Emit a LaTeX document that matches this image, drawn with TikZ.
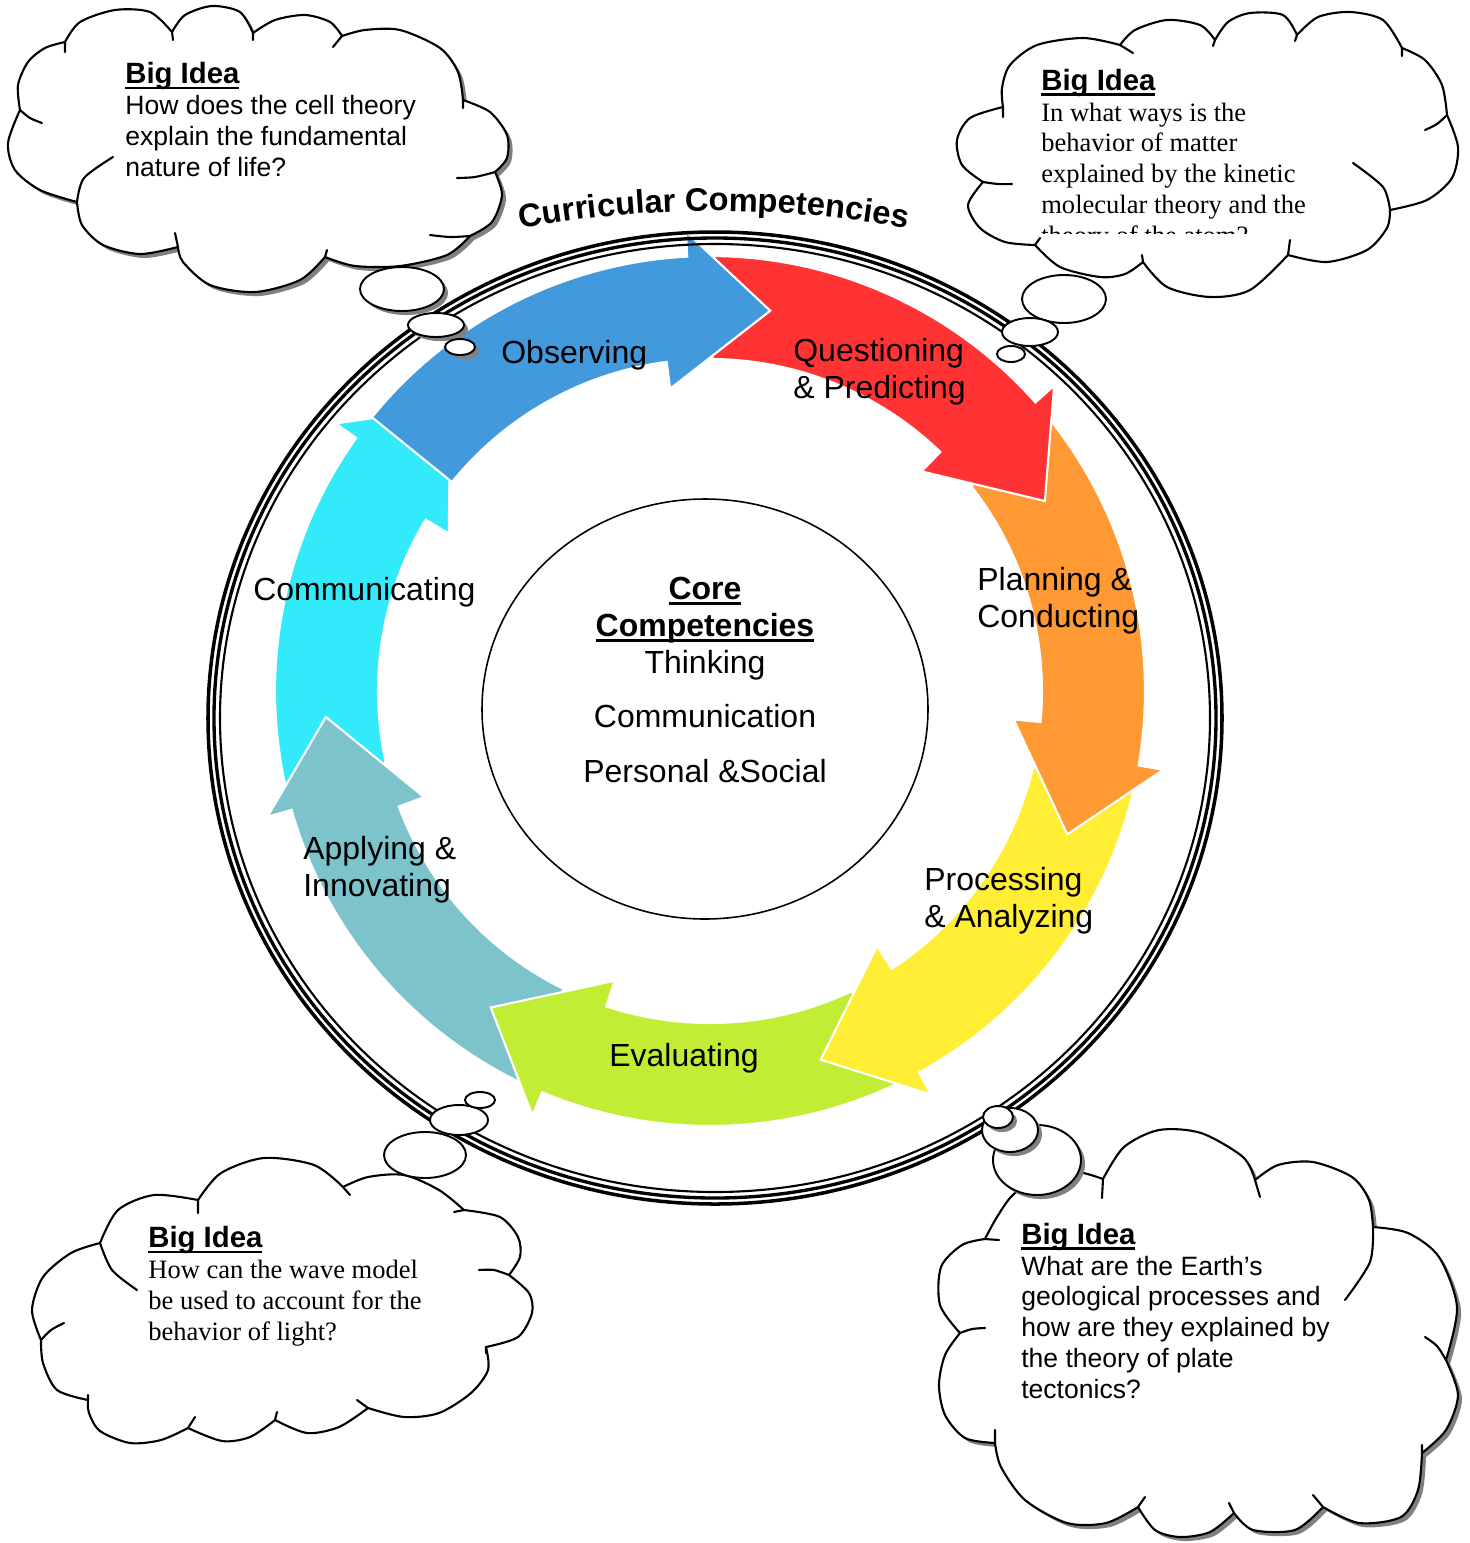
\documentclass[tikz,border=0pt]{standalone}
\usepackage{fontspec}
\setmainfont{Liberation Sans}
\newfontfamily\timesfont{Liberation Serif}
\usetikzlibrary{calc,shadows,decorations.text}

\definecolor{commcyan}{RGB}{51,234,250}
\definecolor{applyteal}{RGB}{125,195,204}
\definecolor{evalgreen}{RGB}{193,238,52}
\definecolor{procyellow}{RGB}{255,238,51}
\definecolor{planorange}{RGB}{255,153,51}
\definecolor{quesred}{RGB}{255,51,51}
\definecolor{obsblue}{RGB}{66,153,220}

\newcommand{\ulbf}[1]{\setbox0=\hbox{\bfseries #1}\rlap{\rule[-0.19em]{\wd0}{0.09em}}\box0}
\newcommand{\bigidea}{{\normalfont\fontsize{16.7pt}{17.5pt}\selectfont\ulbf{Big Idea}}}

\begin{document}
\begin{tikzpicture}[x=0.02cm, y=-0.02cm,
    lbl/.style={font=\fontsize{18.2pt}{20.8pt}\selectfont, align=left, anchor=base west, inner sep=0pt},
    idea/.style={font=\fontsize{15.1pt}{17.5pt}\selectfont, align=left, anchor=base west, inner sep=0pt},
    puffline/.style={draw=black, line width=1.2pt, line join=round, line cap=round},
    cloudshadow/.style={drop shadow={shadow xshift=2.3pt, shadow yshift=-2.3pt, fill=black!50, opacity=1}},
    bubble/.style={fill=white, draw=black, line width=1.1pt}]
    \useasboundingbox (0,0) rectangle (1470,1543);

    % Arrow ring
    \begin{scope}[shift={(710,691)}]
        \foreach \tip/\col in {132.43/commcyan, 183.86/applyteal, 235.29/evalgreen, 286.71/procyellow, 338.14/planorange, 389.57/quesred, 441/obsblue}{
            \pgfmathsetmacro\ta{-\tip-60}
            \pgfmathsetmacro\tb{-\tip-12}
            \pgfmathsetmacro\tc{-\tip-16.5}
            \filldraw[fill=\col, draw=white, line width=1.2pt]
                (\ta:435) arc[start angle=\ta, end angle=\tb, radius=435]
                -- (\tb:460) -- (-\tip:385) -- (\tc:305) -- (\tc:332)
                arc[start angle=\tc, end angle=\ta, radius=332] -- cycle;
        }
    \end{scope}

    % Labels (anchored on the last line)
    \node[lbl] (obs) at (501,363) {Observing};
    \node[lbl] (ques) at (793,398) {Questioning\\\& Predicting};
    \node[lbl] (plan) at (977,627) {Planning \&\\Conducting};
    \node[lbl] (proc) at (924,927) {Processing\\\& Analyzing};
    \node[lbl] (eval) at (609,1066) {Evaluating};
    \node[lbl] (apply) at (303,896) {Applying \&\\Innovating};
    \node[lbl] (comm) at (253,600) {Communicating};

    % Core
    \draw[line width=0.9pt] (705,709) ellipse [x radius=223, y radius=210];
    \node[font=\fontsize{18.2pt}{21pt}\selectfont, align=center, anchor=base, inner sep=0pt] (core) at (705,782)
        {\ulbf{Core}\\\ulbf{Competencies}\\Thinking\\[10pt]Communication\\[10pt]Personal \&Social};

    % Outer ring
    \foreach \rx/\ry/\lw in {507/486/2pt, 501/480/1.9pt, 495/474/1.2pt}
        \draw[line width=\lw] (715,718) ellipse [x radius=\rx, y radius=\ry];

    % Title
    \path[decorate, decoration={text along path, text align=center,
        text={|\fontsize{18.6pt}{20pt}\selectfont\bfseries|Curricular Competencies}}]
        ($(714,1311)+(-101:1100)$) arc[start angle=-101, end angle=-79, radius=1100];

    % Cloud top left
    \filldraw[puffline, fill=white, cloudshadow]
        plot[smooth] coordinates {(20,110) (18,85) (28,62) (45,48) (65,42)}
        -- plot[smooth] coordinates {(65,42) (80,22) (115,10) (150,12) (172,32)}
        -- plot[smooth] coordinates {(172,32) (185,15) (212,6) (240,12) (253,33)}
        -- plot[smooth] coordinates {(253,33) (275,20) (305,15) (330,22) (342,36)}
        -- plot[smooth] coordinates {(342,36) (365,30) (400,30) (440,48) (458,72) (463,100)}
        -- plot[smooth] coordinates {(463,100) (490,112) (507,135) (507,158) (495,172)}
        -- plot[smooth] coordinates {(495,172) (502,195) (492,222) (470,236)}
        -- plot[smooth] coordinates {(470,236) (447,255) (400,266) (355,266) (325,257)}
        -- plot[smooth] coordinates {(325,257) (300,280) (255,292) (210,285) (183,262) (178,247)}
        -- plot[smooth] coordinates {(178,247) (140,254) (103,245) (82,225) (77,202)}
        -- plot[smooth] coordinates {(77,202) (40,190) (15,170) (8,143) (20,110)} -- cycle;
    \draw[puffline] plot[smooth] coordinates {(20,110) (30,118) (42,123)};
    \draw[puffline] (65,42) -- (65,52) (172,32) -- (173,40) (253,33) -- (253,40) (342,36) -- (333,47)
        (463,100) -- (463,108) (325,257) -- (327,250) (178,247) -- (175,233);
    \draw[puffline] plot[smooth] coordinates {(495,172) (475,177) (457,178)};
    \draw[puffline] plot[smooth] coordinates {(470,236) (450,237) (430,235)};
    \draw[puffline] plot[smooth] coordinates {(77,202) (84,178) (113,157)};
    \filldraw[bubble, cloudshadow] (402,289) ellipse [x radius=42, y radius=22];
    \filldraw[bubble, cloudshadow] (436,325) ellipse [x radius=28, y radius=12];
    \filldraw[bubble, cloudshadow] (460,347) ellipse [x radius=15, y radius=8];
    \node[idea] (ideaTL) at (125,176) {\bigidea\\How does the cell theory\\explain the fundamental\\nature of life?};

    % Cloud top right
    \filldraw[puffline, fill=white]
        plot[smooth] coordinates {(1003,107) (1002,88) (1010,65) (1037,45) (1083,38) (1120,45)}
        -- plot[smooth] coordinates {(1120,45) (1135,30) (1167,20) (1200,25) (1215,40)}
        -- plot[smooth] coordinates {(1215,40) (1228,22) (1250,13) (1283,15) (1297,35)}
        -- plot[smooth] coordinates {(1297,35) (1318,17) (1350,12) (1383,20) (1402,48)}
        -- plot[smooth] coordinates {(1402,48) (1425,60) (1442,85) (1447,115)}
        -- plot[smooth] coordinates {(1447,115) (1458,147) (1452,178) (1427,200) (1390,210)}
        -- plot[smooth] coordinates {(1390,210) (1387,228) (1367,250) (1327,262) (1288,255)}
        -- plot[smooth] coordinates {(1288,255) (1250,290) (1210,297) (1167,287) (1143,262)}
        -- plot[smooth] coordinates {(1143,262) (1125,274) (1100,277) (1060,267) (1035,245)}
        -- plot[smooth] coordinates {(1035,245) (1005,242) (980,228) (968,205) (983,182)}
        -- plot[smooth] coordinates {(983,182) (962,165) (957,140) (970,118) (1003,107)} -- cycle;
    \draw[puffline] (1003,107) -- (1003,117) (1143,262) -- (1142,255) (1288,255) -- (1290,240)
        (1402,48) -- (1402,56) (1297,35) -- (1295,41) (1215,40) -- (1213,46) (1120,45) -- (1133,53)
        (1035,245) -- (1040,238);
    \draw[puffline] plot[smooth] coordinates {(983,182) (998,184) (1012,184)};
    \draw[puffline] plot[smooth] coordinates {(1390,210) (1383,187) (1353,163)};
    \draw[puffline] plot[smooth] coordinates {(1447,115) (1437,124) (1425,130)};
    \filldraw[bubble] (1064,299) ellipse [x radius=42, y radius=24];
    \filldraw[bubble] (1030,332) ellipse [x radius=28, y radius=14];
    \filldraw[bubble] (1011,354) ellipse [x radius=14, y radius=8];
    \begin{scope}
        \clip (1030,40) rectangle (1340,233);
        \node[idea, font=\fontsize{15.1pt}{17.5pt}\selectfont\timesfont] (ideaTR) at (1041,244)
            {\bigidea\\In what ways is the\\behavior of matter\\explained by the kinetic\\molecular theory and the\\theory of the atom?};
    \end{scope}

    % Cloud bottom left
    \filldraw[puffline, fill=white]
        plot[smooth] coordinates {(100,1243) (118,1210) (154,1195) (198,1200)}
        -- plot[smooth] coordinates {(198,1200) (221,1173) (264,1158) (314,1165) (343,1187)}
        -- plot[smooth] coordinates {(343,1187) (368,1177) (404,1175) (439,1190) (464,1210)}
        -- plot[smooth] coordinates {(464,1210) (500,1217) (518,1237) (520,1257) (509,1275)}
        -- plot[smooth] coordinates {(509,1275) (529,1293) (532,1313) (518,1337) (486,1347)}
        -- plot[smooth] coordinates {(486,1347) (488,1370) (471,1393) (439,1413) (404,1417) (368,1408)}
        -- plot[smooth] coordinates {(368,1408) (339,1427) (307,1433) (275,1420)}
        -- plot[smooth] coordinates {(275,1420) (250,1437) (222,1441) (188,1428)}
        -- plot[smooth] coordinates {(188,1428) (161,1440) (130,1443) (100,1431) (89,1413) (88,1400)}
        -- plot[smooth] coordinates {(88,1400) (57,1390) (43,1363) (41,1340)}
        -- plot[smooth] coordinates {(41,1340) (32,1310) (43,1277) (71,1253) (100,1243)} -- cycle;
    \draw[puffline] (198,1200) -- (198,1213) (343,1187) -- (350,1195) (464,1210) -- (454,1212)
        (486,1347) -- (486,1353) (368,1408) -- (357,1400) (275,1420) -- (277,1412)
        (188,1428) -- (195,1417) (88,1400) -- (88,1395);
    \draw[puffline] plot[smooth] coordinates {(100,1243) (112,1270) (137,1290)};
    \draw[puffline] plot[smooth] coordinates {(509,1275) (494,1270) (479,1270)};
    \draw[puffline] plot[smooth] coordinates {(41,1340) (51,1330) (64,1323)};
    \filldraw[bubble] (425,1155) ellipse [x radius=41, y radius=23];
    \filldraw[bubble] (459,1120) ellipse [x radius=29, y radius=15];
    \filldraw[bubble] (480,1100) ellipse [x radius=15, y radius=8];
    \node[idea, font=\fontsize{15.1pt}{17.5pt}\selectfont\timesfont] (ideaBL) at (148,1340)
        {\bigidea\\How can the wave model\\be used to account for the\\behavior of light?};

    % Cloud bottom right
    \filldraw[puffline, fill=white, cloudshadow]
        plot[smooth] coordinates {(985,1239) (997,1217) (1015,1193) (1050,1175) (1078,1172) (1103,1179)}
        -- plot[smooth] coordinates {(1103,1179) (1124,1147) (1159,1130) (1201,1133) (1243,1157) (1255,1180)}
        -- plot[smooth] coordinates {(1255,1180) (1278,1165) (1313,1162) (1352,1177) (1369,1200) (1373,1227)}
        -- plot[smooth] coordinates {(1373,1227) (1408,1233) (1439,1257) (1457,1307) (1446,1360)}
        -- plot[smooth] coordinates {(1446,1360) (1458,1395) (1446,1430) (1422,1453)}
        -- plot[smooth] coordinates {(1422,1453) (1418,1490) (1401,1517) (1359,1523) (1323,1507)}
        -- plot[smooth] coordinates {(1323,1507) (1295,1530) (1253,1530) (1234,1513)}
        -- plot[smooth] coordinates {(1234,1513) (1210,1532) (1180,1537) (1155,1530) (1138,1507)}
        -- plot[smooth] coordinates {(1138,1507) (1106,1523) (1067,1523) (1025,1500) (1001,1467) (995,1443)}
        -- plot[smooth] coordinates {(995,1443) (965,1438) (945,1415) (939,1385) (945,1355) (960,1333)}
        -- plot[smooth] coordinates {(960,1333) (940,1305) (941,1267) (962,1245) (985,1239)} -- cycle;
    \draw[puffline] (985,1239) -- (999,1240) (1103,1179) -- (1102,1198) (1255,1180) -- (1260,1197)
        (1422,1453) -- (1422,1445) (1323,1507) -- (1313,1495) (1234,1513) -- (1229,1503)
        (1138,1507) -- (1145,1497) (995,1443) -- (995,1430);
    \draw[puffline] plot[smooth] coordinates {(1373,1227) (1370,1262) (1345,1300)};
    \draw[puffline] plot[smooth] coordinates {(1446,1360) (1437,1346) (1425,1337)};
    \draw[puffline] plot[smooth] coordinates {(960,1333) (972,1329) (985,1328)};
    \filldraw[bubble, cloudshadow] (1037,1160) ellipse [x radius=44, y radius=35];
    \filldraw[bubble, cloudshadow] (1010,1130) ellipse [x radius=28, y radius=22];
    \filldraw[bubble, cloudshadow] (998,1117) ellipse [x radius=15, y radius=11];
    \node[idea] (ideaBR) at (1021,1398)
        {\bigidea\\What are the Earth's\\geological processes and\\how are they explained by\\the theory of plate\\tectonics?};
\end{tikzpicture}
\end{document}
